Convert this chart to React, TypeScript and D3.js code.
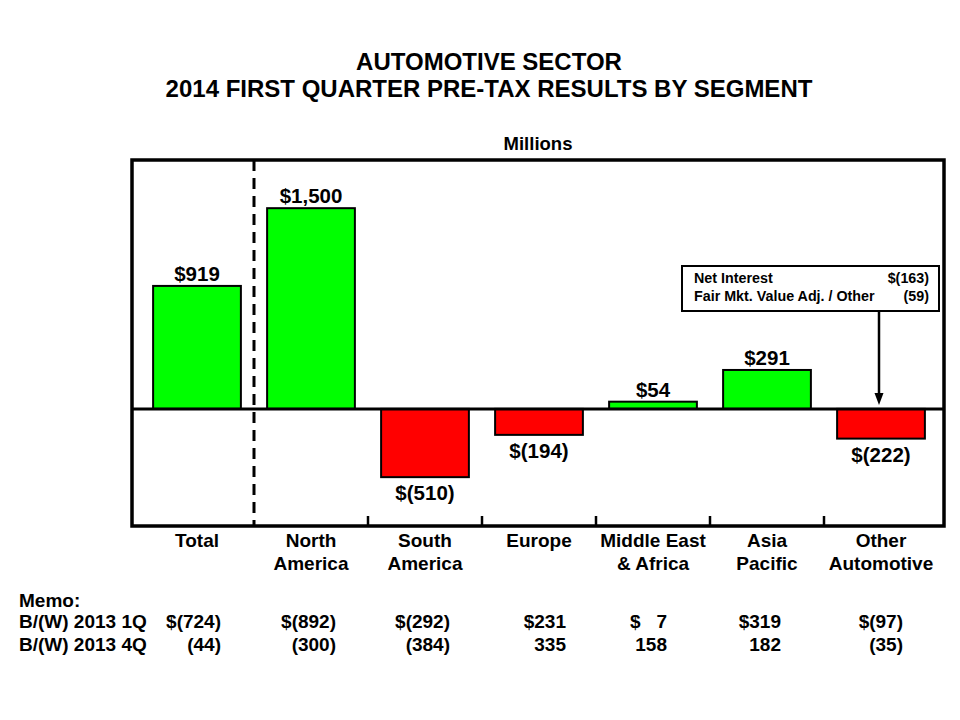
import React from "react";
import * as d3 from "d3";

const categories = ["Total", "North America", "South America", "Europe", "Middle East & Africa", "Asia Pacific", "Other Automotive"];
const categoryLines = [["Total"], ["North", "America"], ["South", "America"], ["Europe"], ["Middle East", "& Africa"], ["Asia", "Pacific"], ["Other", "Automotive"]];
const values = [919, 1500, -510, -194, 54, 291, -222];
const valueLabels = ["$919", "$1,500", "$(510)", "$(194)", "$54", "$291", "$(222)"];
const memoRowLabels = ["B/(W) 2013 1Q", "B/(W) 2013 4Q"];
const memo1Q = ["$(724)", "$(892)", "$(292)", "$231", "$\u00A0\u00A0\u00A07", "$319", "$(97)"];
const memo4Q = ["(44)", "(300)", "(384)", "335", "158", "182", "(35)"];
const calloutRows = [["Net Interest", "$(163)"], ["Fair Mkt. Value Adj. / Other", "(59)"]];
const yDomain = [-875, 1860];

const W = 960, H = 720;
const frame = { x0: 132, y0: 160, x1: 944, y1: 526 };
const memoRight = [221, 336, 450, 566, 667, 781, 903];
const FONT = "'Liberation Sans', Arial, Helvetica, sans-serif";

export default function App() {
  const x = d3.scaleBand<string>().domain(categories).range([140, 938]).paddingInner(0.23).paddingOuter(0.115);
  const y = d3.scaleLinear().domain(yDomain).range([frame.y1, frame.y0]);
  const y0 = y(0);
  const step = x.step();
  const boundaries = categories.slice(1).map((c) => (x(c) as number) - (step - x.bandwidth()) / 2);
  const otherCenter = (x("Other Automotive") as number) + x.bandwidth() / 2;

  return (
    <svg width={W} height={H} style={{ position: "absolute", left: 0, top: 0, background: "#fff" }} fontFamily={FONT} fontWeight="bold">
      <text x={489} y={70} textAnchor="middle" fontSize={24}>AUTOMOTIVE SECTOR</text>
      <text x={489} y={97} textAnchor="middle" fontSize={24}>2014 FIRST QUARTER PRE-TAX RESULTS BY SEGMENT</text>
      <text x={538} y={150} textAnchor="middle" fontSize={18.5}>Millions</text>

      {values.map((v, i) => {
        const c = categories[i];
        const bx = x(c) as number;
        const top = Math.min(y(v), y0);
        const h = Math.abs(y(v) - y0);
        return (
          <g key={c}>
            <rect x={bx} y={top} width={x.bandwidth()} height={h} fill={v >= 0 ? "#00FF00" : "#FF0000"} stroke="#000" strokeWidth={2} />
            <text x={bx + x.bandwidth() / 2} y={v >= 0 ? y(v) - 5 : y(v) + 23} textAnchor="middle" fontSize={20.5}>{valueLabels[i]}</text>
          </g>
        );
      })}

      <line x1={frame.x0} x2={frame.x1} y1={y0} y2={y0} stroke="#000" strokeWidth={3} />
      <line x1={boundaries[0]} x2={boundaries[0]} y1={frame.y0} y2={frame.y1} stroke="#000" strokeWidth={3} strokeDasharray="11,7" />
      {boundaries.slice(1).map((b, i) => (
        <line key={i} x1={b} x2={b} y1={frame.y1 - 10} y2={frame.y1} stroke="#000" strokeWidth={2.5} />
      ))}
      <rect x={frame.x0} y={frame.y0} width={frame.x1 - frame.x0} height={frame.y1 - frame.y0} fill="none" stroke="#000" strokeWidth={3.5} />

      {/* callout */}
      <rect x={682} y={266} width={257} height={45} fill="#fff" stroke="#000" strokeWidth={2} />
      {calloutRows.map((r, i) => (
        <g key={i} fontSize={14.3}>
          <text x={694} y={283 + i * 18}>{r[0]}</text>
          <text x={929} y={283 + i * 18} textAnchor="end">{r[1]}</text>
        </g>
      ))}
      <line x1={otherCenter - 2} x2={otherCenter - 2} y1={311} y2={y0 - 14} stroke="#000" strokeWidth={2.5} />
      <path d={`M${otherCenter - 6.5},${y0 - 16} L${otherCenter + 2.5},${y0 - 16} L${otherCenter - 2},${y0 - 4} Z`} fill="#000" />

      {categoryLines.map((lines, i) => (
        <text key={i} x={(x(categories[i]) as number) + x.bandwidth() / 2} y={547} textAnchor="middle" fontSize={19}>
          {lines.map((l, j) => (
            <tspan key={j} x={(x(categories[i]) as number) + x.bandwidth() / 2} y={547 + j * 23}>{l}</tspan>
          ))}
        </text>
      ))}

      <g fontSize={19}>
        <text x={19} y={607}>Memo:</text>
        <text x={19} y={628}>{memoRowLabels[0]}</text>
        <text x={19} y={651}>{memoRowLabels[1]}</text>
        {memo1Q.map((m, i) => (
          <text key={"a" + i} x={memoRight[i]} y={628} textAnchor="end">{m}</text>
        ))}
        {memo4Q.map((m, i) => (
          <text key={"b" + i} x={memoRight[i]} y={651} textAnchor="end">{m}</text>
        ))}
      </g>
    </svg>
  );
}
